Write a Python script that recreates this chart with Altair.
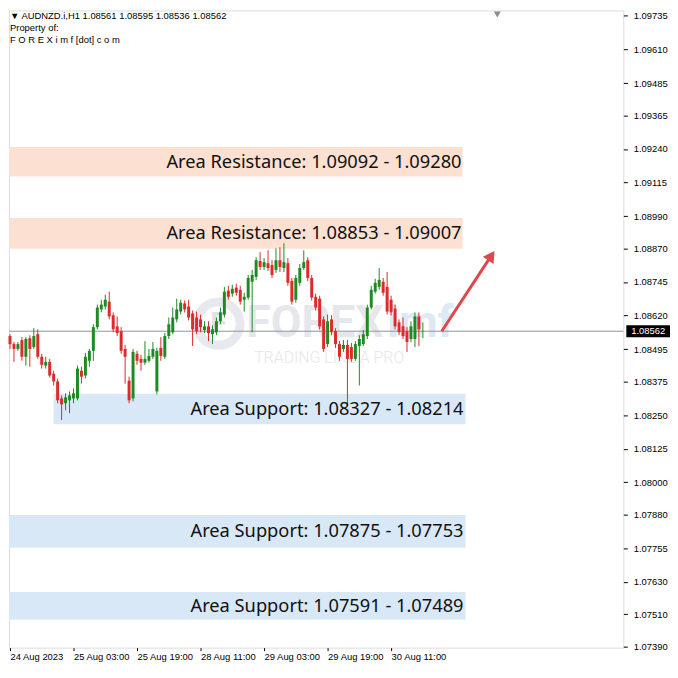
import altair as alt
import pandas as pd

# ---------------- data ----------------
symbol = "AUDNZD.i,H1"
opens = [1.08544, 1.08514, 1.08496, 1.08529, 1.08467, 1.08536, 1.08503, 1.08551, 1.08467, 1.08434,
         1.08448, 1.08404, 1.08375, 1.08312, 1.08294, 1.08305, 1.08312, 1.08312, 1.08415, 1.08397,
         1.08452, 1.08489, 1.08577, 1.08643, 1.08654, 1.08672, 1.08621, 1.08580, 1.08562, 1.08496,
         1.08378, 1.08312, 1.08478, 1.08459, 1.08445, 1.08452, 1.08467, 1.08338, 1.08500, 1.08467,
         1.08544, 1.08558, 1.08606, 1.08635, 1.08665, 1.08654, 1.08628, 1.08613, 1.08606, 1.08566,
         1.08580, 1.08551, 1.08558, 1.08599, 1.08624, 1.08713, 1.08702, 1.08724, 1.08716, 1.08679,
         1.08687, 1.08746, 1.08764, 1.08823, 1.08801, 1.08815, 1.08808, 1.08790, 1.08826, 1.08797,
         1.08815, 1.08749, 1.08679, 1.08742, 1.08797, 1.08826, 1.08760, 1.08690, 1.08683, 1.08606,
         1.08514, 1.08606, 1.08562, 1.08514, 1.08496, 1.08511, 1.08503, 1.08459, 1.08507, 1.08514,
         1.08544, 1.08650, 1.08709, 1.08727, 1.08746, 1.08727, 1.08679, 1.08646, 1.08595, 1.08580,
         1.08562, 1.08533, 1.08533, 1.08617, 1.08561]
highs = [1.08551, 1.08522, 1.08522, 1.08540, 1.08540, 1.08547, 1.08573, 1.08569, 1.08478, 1.08467,
         1.08459, 1.08415, 1.08386, 1.08323, 1.08331, 1.08338, 1.08349, 1.08434, 1.08430, 1.08481,
         1.08496, 1.08588, 1.08661, 1.08679, 1.08698, 1.08709, 1.08632, 1.08617, 1.08577, 1.08511,
         1.08393, 1.08496, 1.08489, 1.08474, 1.08525, 1.08496, 1.08522, 1.08500, 1.08540, 1.08555,
         1.08613, 1.08650, 1.08683, 1.08679, 1.08676, 1.08679, 1.08639, 1.08635, 1.08624, 1.08599,
         1.08599, 1.08584, 1.08613, 1.08650, 1.08727, 1.08731, 1.08735, 1.08738, 1.08731, 1.08705,
         1.08771, 1.08790, 1.08837, 1.08856, 1.08834, 1.08863, 1.08826, 1.08870, 1.08874, 1.08889,
         1.08834, 1.08760, 1.08771, 1.08812, 1.08863, 1.08837, 1.08771, 1.08702, 1.08694, 1.08617,
         1.08624, 1.08621, 1.08573, 1.08525, 1.08529, 1.08529, 1.08518, 1.08525, 1.08547, 1.08566,
         1.08661, 1.08731, 1.08757, 1.08797, 1.08760, 1.08782, 1.08694, 1.08661, 1.08606, 1.08613,
         1.08577, 1.08599, 1.08632, 1.08632, 1.08595]
lows = [1.08496, 1.08448, 1.08489, 1.08452, 1.08434, 1.08430, 1.08496, 1.08459, 1.08423, 1.08423,
        1.08390, 1.08360, 1.08294, 1.08232, 1.08268, 1.08257, 1.08294, 1.08305, 1.08367, 1.08386,
        1.08430, 1.08452, 1.08569, 1.08632, 1.08643, 1.08606, 1.08558, 1.08544, 1.08478, 1.08367,
        1.08294, 1.08301, 1.08437, 1.08415, 1.08437, 1.08445, 1.08459, 1.08327, 1.08452, 1.08459,
        1.08533, 1.08551, 1.08595, 1.08624, 1.08632, 1.08602, 1.08507, 1.08551, 1.08558, 1.08555,
        1.08525, 1.08514, 1.08547, 1.08588, 1.08613, 1.08679, 1.08690, 1.08694, 1.08661, 1.08635,
        1.08679, 1.08558, 1.08753, 1.08790, 1.08790, 1.08786, 1.08760, 1.08779, 1.08782, 1.08782,
        1.08731, 1.08661, 1.08668, 1.08731, 1.08790, 1.08749, 1.08676, 1.08639, 1.08569, 1.08485,
        1.08503, 1.08547, 1.08500, 1.08452, 1.08485, 1.08287, 1.08448, 1.08452, 1.08360, 1.08507,
        1.08533, 1.08643, 1.08702, 1.08716, 1.08694, 1.08624, 1.08621, 1.08569, 1.08547, 1.08533,
        1.08485, 1.08522, 1.08503, 1.08507, 1.08536]
closes = [1.08514, 1.08496, 1.08514, 1.08467, 1.08533, 1.08496, 1.08544, 1.08467, 1.08437, 1.08448,
          1.08397, 1.08375, 1.08305, 1.08290, 1.08316, 1.08323, 1.08331, 1.08423, 1.08393, 1.08467,
          1.08489, 1.08577, 1.08650, 1.08661, 1.08679, 1.08617, 1.08569, 1.08555, 1.08489, 1.08467,
          1.08305, 1.08485, 1.08452, 1.08445, 1.08459, 1.08470, 1.08496, 1.08489, 1.08470, 1.08544,
          1.08588, 1.08613, 1.08643, 1.08668, 1.08643, 1.08613, 1.08569, 1.08562, 1.08577, 1.08580,
          1.08555, 1.08569, 1.08599, 1.08632, 1.08709, 1.08690, 1.08720, 1.08705, 1.08672, 1.08690,
          1.08760, 1.08771, 1.08826, 1.08801, 1.08819, 1.08797, 1.08771, 1.08826, 1.08801, 1.08819,
          1.08742, 1.08672, 1.08760, 1.08797, 1.08819, 1.08760, 1.08687, 1.08650, 1.08580, 1.08496,
          1.08599, 1.08558, 1.08514, 1.08467, 1.08511, 1.08459, 1.08459, 1.08514, 1.08533, 1.08551,
          1.08650, 1.08716, 1.08742, 1.08753, 1.08705, 1.08635, 1.08632, 1.08580, 1.08558, 1.08544,
          1.08522, 1.08580, 1.08617, 1.08569, 1.08562]

x_tick_idx = [0, 16, 32, 48, 64, 80, 96]
x_tick_labels = ["24 Aug 2023", "25 Aug 03:00", "25 Aug 19:00", "28 Aug 11:00",
                 "29 Aug 03:00", "29 Aug 19:00", "30 Aug 11:00"]
y_ticks = [1.09735, 1.09610, 1.09485, 1.09365, 1.09240, 1.09115, 1.08990, 1.08870, 1.08745,
           1.08620, 1.08495, 1.08375, 1.08250, 1.08125, 1.08000, 1.07880, 1.07755, 1.07630,
           1.07510, 1.07390]

zone_kind = ["res", "res", "sup", "sup", "sup"]
zone_top = [1.09247, 1.08983, 1.08329, 1.07878, 1.07592]
zone_bottom = [1.09137, 1.08869, 1.08216, 1.07757, 1.07489]
zone_start = [-0.25, -0.25, 11.0, -0.25, -0.25]
zone_end = [114.0, 114.0, 114.75, 114.75, 114.75]
zone_label = ["Area Resistance: 1.09092 - 1.09280",
              "Area Resistance: 1.08853 - 1.09007",
              "Area Support: 1.08327 - 1.08214",
              "Area Support: 1.07875 - 1.07753",
              "Area Support: 1.07591 - 1.07489"]
zone_text_x = [113.75, 113.75, 114.25, 114.25, 114.25]

arrow_x = [108.75, 120.75]
arrow_y = [1.08562, 1.08832]
arrow_head_x = [121.25]
arrow_head_y = [1.08843]

wm_circle = ([52.5], [1.08590])
wm_texts = ["FOREX", "imf", "TRADING LIKE A PRO"]
wm_x = [59.5, 95.0, 61.5]
wm_y = [1.08592, 1.08592, 1.08462]

GREEN = "#1f8a24"
RED = "#dd2a2a"
RES_FILL = "#fce0d2"
SUP_FILL = "#d9e8f6"
AX_FONT = "Liberation Sans"

# ---------------- frames ----------------
n = len(opens)
df = pd.DataFrame({"i": list(range(n)), "open": opens, "high": highs,
                   "low": lows, "close": closes})
df["col"] = [GREEN if c >= o else RED for o, c in zip(opens, closes)]

zones = pd.DataFrame({"kind": zone_kind, "top": zone_top, "bottom": zone_bottom,
                      "start": zone_start, "end": zone_end, "label": zone_label,
                      "tx": zone_text_x})
zones["mid"] = (zones["top"] + zones["bottom"]) / 2
zones["fill"] = [RES_FILL if k == "res" else SUP_FILL for k in zone_kind]

last = df.iloc[-1]
header = pd.DataFrame({"t": [f"\u25bc {symbol}  {last.open:.5f} {last.high:.5f} {last.low:.5f} {last.close:.5f}",
                             "Property of:", "F O R E X i m f [dot] c o m"],
                       "py": [6, 18, 30]})

xs = alt.Scale(domain=[-0.25, 154.5], nice=False, zero=False, padding=0)
ys = alt.Scale(domain=[1.07385, 1.09755], nice=False, zero=False, padding=0)

label_expr = ""
for v, lab in zip(x_tick_idx, x_tick_labels):
    label_expr += f"datum.value == {v} ? '{lab}' : "
label_expr += "''"

xaxis = alt.Axis(values=x_tick_idx, labelExpr=label_expr, title=None, orient="bottom",
                 labelAlign="left", tickSize=3, labelPadding=1, grid=False, domain=False,
                 labelFont=AX_FONT, labelFontSize=9.5, labelColor="#000", tickColor="#000",
                 labelFlush=False, labelOverlap=False)
yaxis = alt.Axis(orient="right", values=y_ticks, format=".5f", title=None, tickSize=4,
                 labelPadding=6, grid=False, domain=False, labelOverlap=False,
                 labelFlush=False, labelFont=AX_FONT, labelFontSize=9.5,
                 labelColor="#000", tickColor="#000")


def X(f):
    return alt.X(f, scale=xs, axis=xaxis)


def Y(f):
    return alt.Y(f, scale=ys, axis=yaxis)


zone_rects = alt.Chart(zones).mark_rect().encode(
    x=X("start:Q"), x2="end:Q", y=Y("top:Q"), y2="bottom:Q",
    color=alt.Color("fill:N", scale=None))

wm_c = alt.Chart(pd.DataFrame({"x": wm_circle[0], "y": wm_circle[1]})).mark_point(
    shape="circle", filled=False, size=1900, strokeWidth=9, color="#dfe1e7", opacity=0.7
).encode(x=X("x:Q"), y=Y("y:Q"))
wm_f = alt.Chart(pd.DataFrame({"x": wm_circle[0], "y": wm_circle[1], "t": ["F"]})).mark_text(
    font="Roboto", fontWeight="bold", fontSize=30, color="#d4d7de", opacity=0.7
).encode(x=X("x:Q"), y=Y("y:Q"), text="t:N")
wm = pd.DataFrame({"t": wm_texts, "x": wm_x, "y": wm_y,
                   "c": ["#dcdee4", "#cfe0f1", "#e0e2e7"]})
wm_big = alt.Chart(wm.iloc[:2]).mark_text(
    font="Roboto", fontWeight="bold", fontSize=45, align="left", baseline="middle", opacity=0.7
).encode(x=X("x:Q"), y=Y("y:Q"), text="t:N", color=alt.Color("c:N", scale=None))
wm_small = alt.Chart(wm.iloc[2:]).mark_text(
    font="Roboto", fontWeight=300, fontSize=16, align="left", baseline="middle", opacity=0.8
).encode(x=X("x:Q"), y=Y("y:Q"), text="t:N", color=alt.Color("c:N", scale=None))

price_line = alt.Chart(pd.DataFrame({"p": [last.close]})).mark_rule(
    color="#8c949a", strokeWidth=1).encode(y=Y("p:Q"))

wicks = alt.Chart(df).mark_rule(strokeWidth=1).encode(
    x=X("i:Q"), y=Y("low:Q"), y2="high:Q", color=alt.Color("col:N", scale=None))
bodies = alt.Chart(df).mark_bar(size=3).encode(
    x=X("i:Q"), y=Y("open:Q"), y2="close:Q", color=alt.Color("col:N", scale=None))

zone_texts = alt.Chart(zones).mark_text(
    font="Noto Sans", fontSize=18.4, align="right", baseline="middle", color="#111"
).encode(x=X("tx:Q"), y=Y("mid:Q"), text="label:N")

arrow_df = pd.DataFrame({"x": arrow_x, "y": arrow_y, "o": [0, 1]})
arrow_line = alt.Chart(arrow_df).mark_line(color="#e0474c", strokeWidth=3).encode(
    x=X("x:Q"), y=Y("y:Q"), order="o:Q")
arrow_head = alt.Chart(pd.DataFrame({"x": arrow_head_x, "y": arrow_head_y})).mark_point(
    shape="triangle-up", filled=True, size=170, angle=34, color="#e0474c", opacity=1
).encode(x=X("x:Q"), y=Y("y:Q"))

header_txt = alt.Chart(header).mark_text(
    font=AX_FONT, fontSize=9.5, align="left", baseline="middle", color="#000"
).encode(x=alt.value(1), y=alt.Y("py:Q", scale=None), text="t:N")

shift_mark = alt.Chart(pd.DataFrame({"a": [1]})).mark_point(
    shape="triangle-down", filled=True, size=50, color="#8a8f96", opacity=1
).encode(x=alt.value(492), y=alt.value(4))

box = alt.Chart(pd.DataFrame({"p": [last.close]})).mark_point(
    shape="M-1,-0.2727L1,-0.2727L1,0.2727L-1,0.2727Z", filled=True, size=1936,
    color="#000", opacity=1
).encode(x=alt.value(644), y=Y("p:Q"))
box_txt = alt.Chart(pd.DataFrame({"p": [last.close]})).mark_text(
    font=AX_FONT, fontSize=9.5, color="#fff", align="center", baseline="middle"
).encode(x=alt.value(644), y=Y("p:Q"), text=alt.Text("p:Q", format=".5f"))

chart = alt.layer(
    zone_rects, wm_c, wm_f, wm_big, wm_small, price_line, wicks, bodies, zone_texts,
    arrow_line, arrow_head, header_txt, shift_mark, box, box_txt
).properties(width=619, height=642, padding=0).configure_view(
    stroke="#000", strokeWidth=1
).configure(background="white")

chart.save("out.html", embed_options={"renderer": "svg", "actions": False})
